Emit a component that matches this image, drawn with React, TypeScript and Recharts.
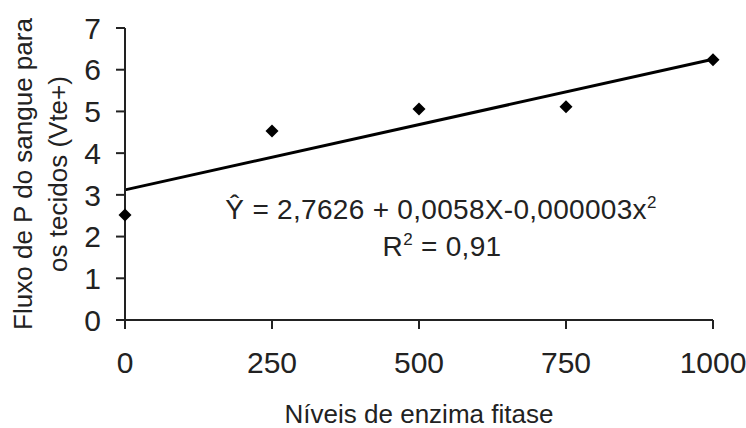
import {
  ComposedChart,
  Scatter,
  Line,
  XAxis,
  YAxis,
  Customized,
} from 'recharts';

const levels = [0, 250, 500, 750, 1000];
const flux = [2.52, 4.53, 5.06, 5.11, 6.24];

// fitted trend, drawn as the straight line the original shows
const trendLevels = [0, 1000];
const trendFlux = [3.12, 6.25];

const xTicks = [0, 250, 500, 750, 1000];
const yTicks = [0, 1, 2, 3, 4, 5, 6, 7];

const points = levels.map((x, i) => ({ x, y: flux[i] }));
const trend = trendLevels.map((x, i) => ({ x, y: trendFlux[i] }));

const FONT = '"Liberation Sans", Arial, sans-serif';
const INK = '#222';

const Diamond = (props: any) => {
  const { cx, cy } = props;
  const r = 6.5;
  return (
    <path
      d={`M${cx},${cy - r}L${cx + r},${cy}L${cx},${cy + r}L${cx - r},${cy}Z`}
      fill="#000"
    />
  );
};

const YTitle = (props: any) => {
  const { viewBox } = props;
  const cy = viewBox.y + viewBox.height / 2;
  const x1 = viewBox.x + 32;
  const x2 = viewBox.x + 67;
  return (
    <g fontFamily={FONT} fontSize={26} fill={INK}>
      <text x={x1} y={cy} textAnchor="middle" transform={`rotate(-90 ${x1} ${cy})`}>
        Fluxo de P do sangue para
      </text>
      <text x={x2} y={cy} textAnchor="middle" transform={`rotate(-90 ${x2} ${cy})`}>
        os tecidos (Vte+)
      </text>
    </g>
  );
};

const XTitle = (props: any) => {
  const { viewBox } = props;
  return (
    <text
      x={viewBox.x + viewBox.width / 2}
      y={viewBox.y + 103}
      textAnchor="middle"
      fontFamily={FONT}
      fontSize={26}
      fill={INK}
    >
      Níveis de enzima fitase
    </text>
  );
};

const Equation = () => (
  <g fontFamily={FONT} fontSize={28} fill={INK}>
    <text x={441} y={219} textAnchor="middle" letterSpacing={0.3}>
      Ŷ = 2,7626 + 0,0058X-0,000003x
      <tspan fontSize={17} dy={-11}>2</tspan>
    </text>
    <text x={442} y={256} textAnchor="middle" letterSpacing={0.3}>
      R
      <tspan fontSize={17} dy={-11}>2</tspan>
      <tspan dy={11}> = 0,91</tspan>
    </text>
  </g>
);

export default function App() {
  return (
    <div style={{ position: 'absolute', left: 0, top: 0, background: '#fff' }}>
      <ComposedChart
        width={746}
        height={428}
        margin={{ top: 28, right: 33, bottom: 0, left: 0 }}
      >
        <XAxis
          dataKey="x"
          type="number"
          domain={[0, 1000]}
          ticks={xTicks}
          height={108}
          tickSize={9}
          tickMargin={23}
          axisLine={{ stroke: INK, strokeWidth: 2 }}
          tickLine={{ stroke: INK, strokeWidth: 2 }}
          tick={{ fill: INK, fontSize: 30, fontFamily: FONT }}
          label={<XTitle />}
        />
        <YAxis
          type="number"
          domain={[0, 7]}
          ticks={yTicks}
          width={125}
          tickSize={9}
          tickMargin={15}
          axisLine={{ stroke: INK, strokeWidth: 2 }}
          tickLine={{ stroke: INK, strokeWidth: 2 }}
          tick={{ fill: INK, fontSize: 30, fontFamily: FONT }}
          label={<YTitle />}
        />
        <Line
          data={trend}
          dataKey="y"
          type="linear"
          stroke="#000"
          strokeWidth={3}
          dot={false}
          activeDot={false}
          isAnimationActive={false}
        />
        <Scatter
          data={points}
          dataKey="y"
          fill="#000"
          shape={<Diamond />}
          isAnimationActive={false}
        />
        <Customized component={Equation} />
      </ComposedChart>
    </div>
  );
}
